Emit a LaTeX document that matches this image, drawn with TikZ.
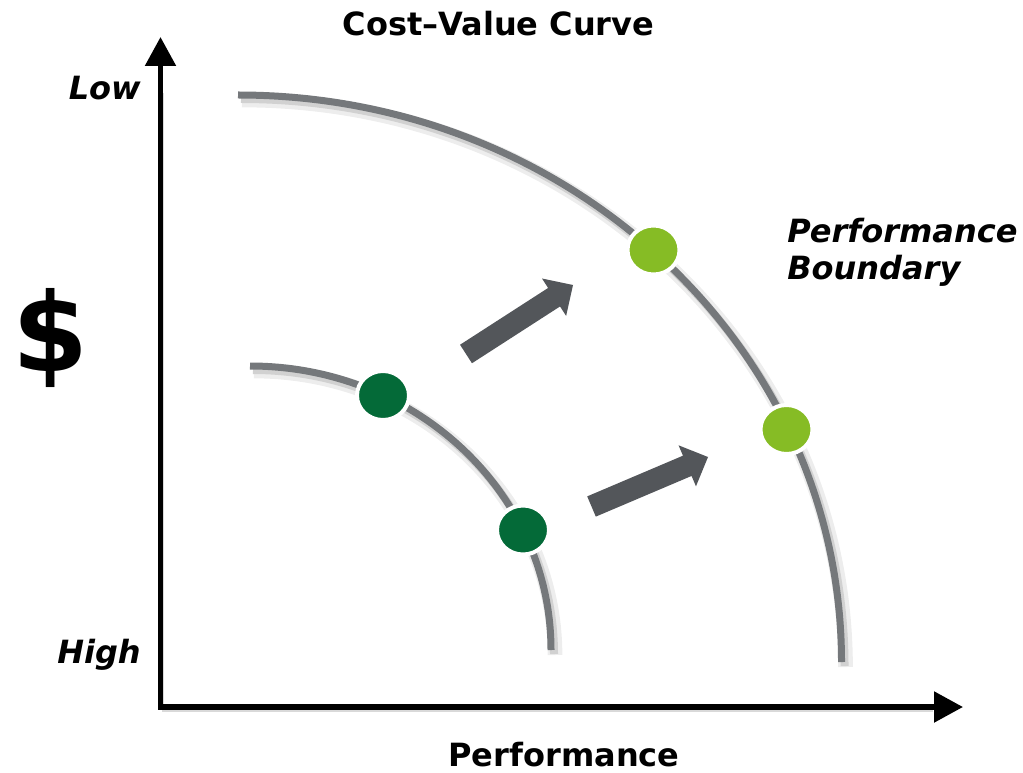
\documentclass[tikz,border=0pt]{standalone}
\usepackage{fontspec}
\setmainfont{DejaVu Sans}
\usetikzlibrary{arrows.meta,calc,shapes.geometric}
\definecolor{curvegray}{HTML}{75787B}
\definecolor{arrowgray}{HTML}{53565A}
\definecolor{darkgreen}{HTML}{046A38}
\definecolor{lightgreen}{HTML}{86BC25}
\begin{document}
\begin{tikzpicture}[x=0.75pt,y=0.75pt,
  lbl/.style={font=\fontsize{24pt}{27.75pt}\selectfont\bfseries, inner sep=0pt},
  ilbl/.style={font=\fontsize{24pt}{27.75pt}\selectfont\bfseries\itshape, inner sep=0pt},
  curve/.style={curvegray, line width=5.25pt, line cap=butt},
  shadowa/.style={black!7, line width=11pt},
  shadowb/.style={black!18, line width=6pt},
  axisline/.style={line width=4pt, line join=miter,
    {Triangle[length=21.75pt,width=22.5pt]}-{Triangle[length=21.75pt,width=22.5pt]}},
  dotnode/.style={ellipse, draw=white, line width=3pt, minimum width=39pt,
    minimum height=36.75pt, inner sep=0pt},
  bigarrow/.style={fill=arrowgray}
]
\useasboundingbox (0,0) rectangle (1023,-773);

% curve shadows
\draw[shadowa, shift={(4,-5)}] (238,-95) arc[start angle=90, end angle=0, x radius=452.625pt, y radius=425.25pt];
\draw[shadowb, shift={(3,-4)}] (238,-95) arc[start angle=90, end angle=0, x radius=452.625pt, y radius=425.25pt];
\draw[shadowa, shift={(4,-5)}] (250,-366) arc[start angle=90, end angle=0, x radius=225.75pt, y radius=213pt];
\draw[shadowb, shift={(3,-4)}] (250,-366) arc[start angle=90, end angle=0, x radius=225.75pt, y radius=213pt];

% curves
\draw[curve] (238,-95) arc[start angle=90, end angle=0, x radius=452.625pt, y radius=425.25pt];
\draw[curve] (250,-366) arc[start angle=90, end angle=0, x radius=225.75pt, y radius=213pt];

% dots
\node[dotnode, fill=darkgreen] (d1) at (383,-395.5) {};
\node[dotnode, fill=darkgreen] (d2) at (523,-530) {};
\node[dotnode, fill=lightgreen] (d3) at (653.5,-250) {};
\node[dotnode, fill=lightgreen] (d4) at (786.5,-429.5) {};

% big arrows
\coordinate (tA) at (466,-354);
\coordinate (hA) at (573,-285);
\coordinate (bA) at ($(hA)!16.9pt!(tA)$);
\fill[bigarrow] ($(tA)!8.25pt!90:(hA)$) -- ($(bA)!8.25pt!90:(hA)$) -- ($(bA)!16.7pt!90:(hA)$)
  -- (hA) -- ($(bA)!16.7pt!-90:(hA)$) -- ($(bA)!8.25pt!-90:(hA)$) -- ($(tA)!8.25pt!-90:(hA)$) -- cycle;
\coordinate (tB) at (591.5,-506.5);
\coordinate (hB) at (708,-457);
\coordinate (bB) at ($(hB)!16.9pt!(tB)$);
\fill[bigarrow] ($(tB)!8.25pt!90:(hB)$) -- ($(bB)!8.25pt!90:(hB)$) -- ($(bB)!16.7pt!90:(hB)$)
  -- (hB) -- ($(bB)!16.7pt!-90:(hB)$) -- ($(bB)!8.25pt!-90:(hB)$) -- ($(tB)!8.25pt!-90:(hB)$) -- cycle;

% axes
\coordinate (ytip) at (160.5,-37);
\coordinate (xtip) at (963,-707);
\draw[black!15, line width=2pt, shift={(2.5,-3.5)}] (160.5,-90) |- (930,-707);
\draw[axisline] (ytip) |- (xtip);

% texts
\node[lbl, anchor=base] (title) at (498.5,-36) {Cost–Value Curve};
\node[ilbl, anchor=base east] (low) at (141,-100) {Low};
\node[ilbl, anchor=base east] (high) at (141,-663) {High};
\node[lbl, anchor=base] (perf) at (564,-766) {Performance};
\node[ilbl, anchor=base west] (pb1) at (787,-243) {Performance};
\node[ilbl, anchor=base west] (pb2) at (787,-280) {Boundary};
\node[font=\fontsize{82pt}{82pt}\selectfont\bfseries, inner sep=0pt, anchor=base] (dollar) at (50.5,-371) {\$};
\end{tikzpicture}
\end{document}
